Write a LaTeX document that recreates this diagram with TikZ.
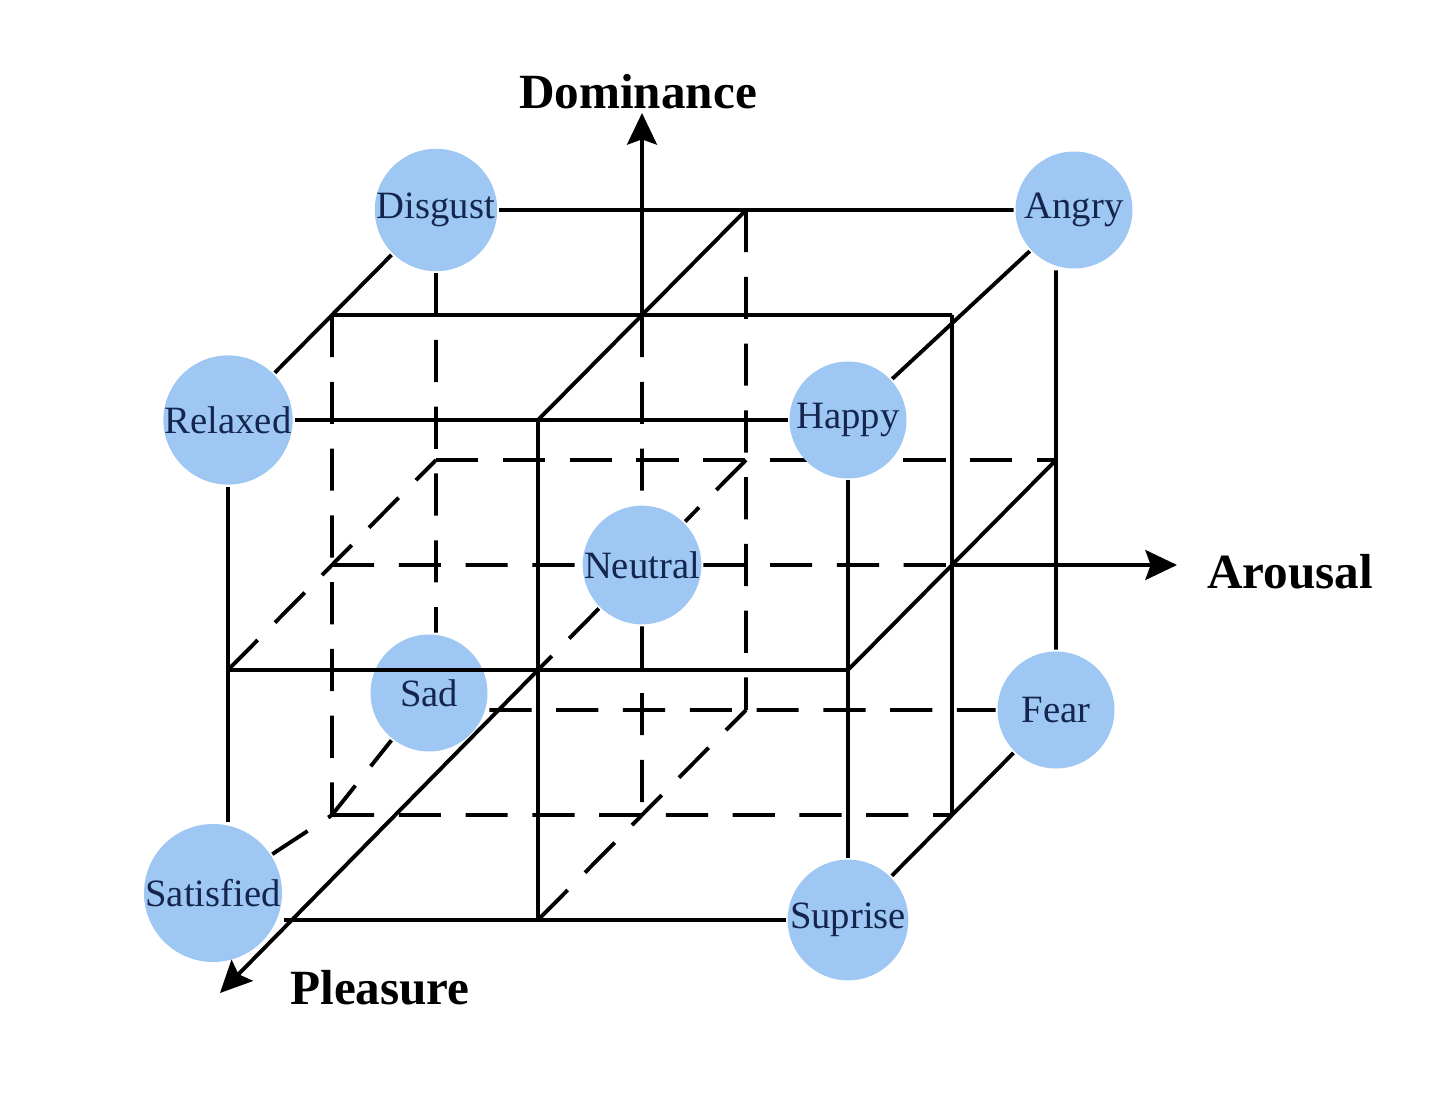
\documentclass[tikz,border=0pt]{standalone}
\usepackage{fontspec}
\setmainfont{Liberation Serif}
\usetikzlibrary{arrows.meta}
\definecolor{emofill}{RGB}{158,199,243}
\definecolor{emotext}{RGB}{20,38,78}
\begin{document}
\begin{tikzpicture}[>={Stealth[length=9pt,width=8.5pt,inset=1.5pt]},line width=1.1pt,emo/.style={circle,fill=emofill,minimum size=1.17cm,inner sep=0pt,text=emotext,font=\fontsize{11}{13}\selectfont},ax/.style={font=\fontsize{14}{17}\selectfont\bfseries},hid/.style={dash pattern=on 12pt off 7pt}]
  \useasboundingbox (0,0) rectangle (14.4,11.05);
  \coordinate (p000) at (2.28,1.85); \coordinate (p001) at (3.32,2.90); \coordinate (p002) at (4.36,3.95);
  \coordinate (p010) at (2.28,4.35); \coordinate (p011) at (3.32,5.40); \coordinate (p012) at (4.36,6.45);
  \coordinate (p020) at (2.28,6.85); \coordinate (p021) at (3.32,7.90); \coordinate (p022) at (4.36,8.95);
  \coordinate (p100) at (5.38,1.85); \coordinate (p101) at (6.42,2.90); \coordinate (p102) at (7.46,3.95);
  \coordinate (p110) at (5.38,4.35); \coordinate (p111) at (6.42,5.40); \coordinate (p112) at (7.46,6.45);
  \coordinate (p120) at (5.38,6.85); \coordinate (p121) at (6.42,7.90); \coordinate (p122) at (7.46,8.95);
  \coordinate (p200) at (8.48,1.85); \coordinate (p201) at (9.52,2.90); \coordinate (p202) at (10.56,3.95);
  \coordinate (p210) at (8.48,4.35); \coordinate (p211) at (9.52,5.40); \coordinate (p212) at (10.56,6.45);
  \coordinate (p220) at (8.48,6.85); \coordinate (p221) at (9.52,7.90); \coordinate (p222) at (10.56,8.95);
  \coordinate (domend) at (6.42,9.92);
  \coordinate (aroend) at (11.77,5.40);
  \coordinate (pleend) at (2.20,1.12);
  \draw[hid] (p012) -- (p212);
  \node[emo] (disgust) at (p022) {Disgust};
  \node[emo] (angry) at (10.74,8.95) {Angry};
  \node[emo] (relaxed) at (p020) {Relaxed};
  \node[emo] (happy) at (p220) {Happy};
  \node[emo] (neutral) at (p111) {Neutral};
  \node[emo] (sad) at (4.29,4.12) {Sad};
  \node[emo] (fear) at (p202) {Fear};
  \node[emo] (satisfied) at (2.13,2.12) {Satisfied};
  \node[emo] (suprise) at (p200) {Suprise};
  \node[ax] (domlab) at (6.38,10.13) {Dominance};
  \node[ax] (arolab) at (12.90,5.33) {Arousal};
  \node[ax] (plelab) at (3.80,1.17) {Pleasure};
  \draw[hid] (p010) -- (p012) (p001) -- (p201) (p021) -- (p001) (p122) -- (p102) (p100) -- (p102);
  \draw[hid] (disgust) -- (disgust |- sad.north) (sad.east |- p002) -- (fear) (satisfied) -- (p001) -- (sad);
  \draw[hid] (p011) -- (neutral) (neutral) -- (p211) (p121) -- (neutral) (neutral) -- (p101) (p112) -- (neutral) (neutral) -- (p110);
  \draw (relaxed) -- (happy) (relaxed) -- (relaxed |- satisfied.north) (satisfied.east |- p000) -- (suprise) (happy) -- (suprise);
  \draw (relaxed) -- (disgust) (disgust) -- (angry) (happy) -- (angry) (fear) -- (fear |- angry.south) (suprise) -- (fear);
  \draw (p120) -- (p100) (p120) -- (p122) (p021) -- (p221) (p221) -- (p201) (p210) -- (p212) (p010) -- (p210);
  \draw[->] (p121) -- (domend);
  \draw[->] (p211) -- (aroend);
  \draw[->] (p110) -- (pleend);
\end{tikzpicture}
\end{document}
